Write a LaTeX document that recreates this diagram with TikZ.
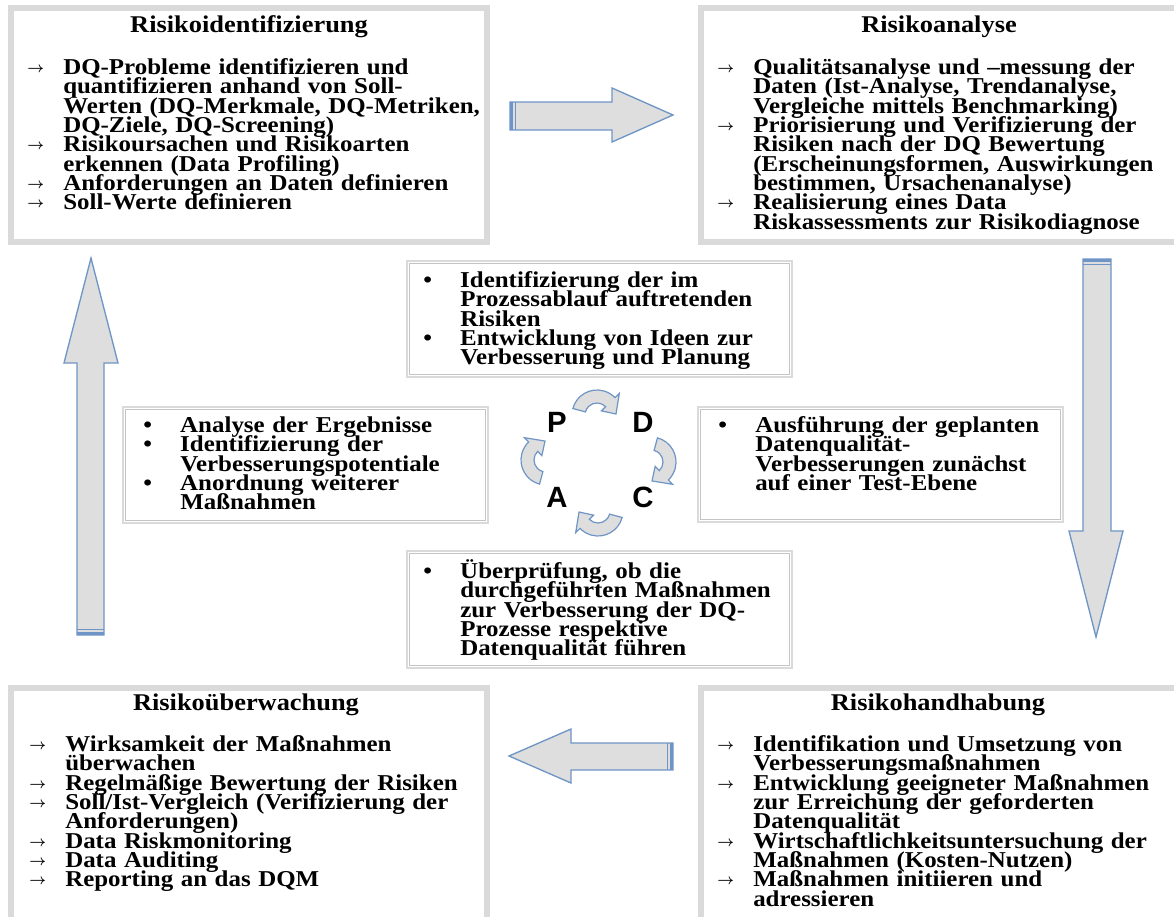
\documentclass[tikz,border=0pt]{standalone}
\usepackage{fontspec}
\setmainfont{Liberation Serif}[FakeStretch=1.1]
\newfontfamily\pdcafont{Liberation Sans}
\usetikzlibrary{positioning}

\definecolor{arrowblue}{HTML}{6E95C6}
\definecolor{arrowfill}{HTML}{DEDEDE}
\definecolor{framegray}{HTML}{DADADA}
\definecolor{linegray}{HTML}{C4C4C4}

\newcommand{\riskfont}{\fontsize{17}{14.5}\selectfont\bfseries\lineskiplimit=-50pt\lineskip=0pt}
\newcommand{\arrowitem}{\par\hangindent=27pt\hangafter=1\noindent\rule{0pt}{12pt}\makebox[27pt][l]{\raisebox{1.5pt}{\fontsize{11}{11}\selectfont$\boldsymbol{\rightarrow}$}}}
\newcommand{\dotitem}{\par\hangindent=27.75pt\hangafter=1\noindent\rule{0pt}{12pt}\makebox[27.75pt][l]{\textbullet}}
\usepackage{amsmath}

\tikzset{
    bigframe/.style={draw=framegray, line width=4.5pt},
    midframe/.style={draw=framegray, line width=2.2pt},
    midline/.style={draw=linegray, line width=0.6pt},
    boxtitle/.style={font=\fontsize{18}{18}\selectfont\bfseries, anchor=base, inner sep=0pt},
    itemtext/.style={font=\riskfont, align=left, text width=360pt, anchor=north west, inner sep=0pt},
    blockarrow/.style={fill=arrowfill, draw=arrowblue, line width=1pt, line join=miter},
    tailline/.style={draw=arrowblue, line width=#1},
    cyclearrow/.style={fill=arrowfill, draw=arrowblue, line width=0.9pt},
    pdca/.style={font=\pdcafont\fontsize{22}{22}\selectfont\bfseries, inner sep=0pt},
    turn/.pic={
        \path[cyclearrow] (195:25) arc[start angle=195, end angle=316, radius=25]
            -- (316:31) -- (357:19) -- (316:6) -- (316:12)
            arc[start angle=316, end angle=195, radius=12] -- cycle;
    }
}

\begin{document}
\begin{tikzpicture}[x=0.75pt, y=-0.75pt]
    \useasboundingbox (0,0) rectangle (1174,917);

    % four phase boxes
    \draw[bigframe] (11,8) rectangle (487,242);
    \draw[bigframe] (701,8) rectangle (1180,242);
    \draw[bigframe] (11,688) rectangle (487,922);
    \draw[bigframe] (701,688) rectangle (1180,922);

    \node[boxtitle] (identTitle) at (249,33) {Risikoidentifizierung};
    \node[boxtitle] (analyseTitle) at (939,33) {Risikoanalyse};
    \node[boxtitle] (watchTitle) at (246,710) {Risikoüberwachung};
    \node[boxtitle] (handleTitle) at (938,710) {Risikohandhabung};

    \node[itemtext] (identBody) at (27,55) {%
        \arrowitem DQ-Probleme identifizieren und\newline quantifizieren anhand von Soll-\newline Werten (DQ-Merkmale, DQ-Metriken,\newline DQ-Ziele, DQ-Screening)
        \arrowitem Risikoursachen und Risikoarten\newline erkennen (Data Profiling)
        \arrowitem Anforderungen an Daten definieren
        \arrowitem Soll-Werte definieren\par};

    \node[itemtext] (analyseBody) at (717,55) {%
        \arrowitem Qualitätsanalyse und –messung der\newline Daten (Ist-Analyse, Trendanalyse,\newline Vergleiche mittels Benchmarking)
        \arrowitem Priorisierung und Verifizierung der\newline Risiken nach der DQ Bewertung\newline (Erscheinungsformen, Auswirkungen\newline bestimmen, Ursachenanalyse)
        \arrowitem Realisierung eines Data\newline Riskassessments zur Risikodiagnose\par};

    \node[itemtext] (watchBody) at (29,732) {%
        \arrowitem Wirksamkeit der Maßnahmen\newline überwachen
        \arrowitem Regelmäßige Bewertung der Risiken
        \arrowitem Soll/Ist-Vergleich (Verifizierung der\newline Anforderungen)
        \arrowitem Data Riskmonitoring
        \arrowitem Data Auditing
        \arrowitem Reporting an das DQM\par};

    \node[itemtext] (handleBody) at (717,732) {%
        \arrowitem Identifikation und Umsetzung von\newline Verbesserungsmaßnahmen
        \arrowitem Entwicklung geeigneter Maßnahmen\newline zur Erreichung der geforderten\newline Datenqualität
        \arrowitem Wirtschaftlichkeitsuntersuchung der\newline Maßnahmen (Kosten-Nutzen)
        \arrowitem Maßnahmen initiieren und\newline adressieren\par};

    % inner PDCA boxes
    \draw[midframe] (407,261) rectangle (792,377);
    \draw[midline] (409.5,263.5) rectangle (789.5,374.5);
    \draw[midframe] (123,407) rectangle (488,523);
    \draw[midline] (125.5,409.5) rectangle (485.5,520.5);
    \draw[midframe] (698,407) rectangle (1063,522);
    \draw[midline] (700.5,409.5) rectangle (1060.5,519.5);
    \draw[midframe] (407,551) rectangle (792,668);
    \draw[midline] (409.5,553.5) rectangle (789.5,665.5);

    \node[itemtext] (planBody) at (423,268) {%
        \dotitem Identifizierung der im\newline Prozessablauf auftretenden\newline Risiken
        \dotitem Entwicklung von Ideen zur\newline Verbesserung und Planung\par};

    \node[itemtext] (actBody) at (143,413) {%
        \dotitem Analyse der Ergebnisse
        \dotitem Identifizierung der\newline Verbesserungspotentiale
        \dotitem Anordnung weiterer\newline Maßnahmen\par};

    \node[itemtext] (doBody) at (718,413) {%
        \dotitem Ausführung der geplanten\newline Datenqualität-\newline Verbesserungen zunächst\newline auf einer Test-Ebene\par};

    \node[itemtext] (checkBody) at (423,559) {%
        \dotitem Überprüfung, ob die\newline durchgeführten Maßnahmen\newline zur Verbesserung der DQ-\newline Prozesse respektive\newline Datenqualität führen\par};

    % big block arrows
    \draw[blockarrow] (510,102) -- (612,102) -- (612,88) -- (673,115) -- (612,142) -- (612,130) -- (510,130) -- cycle;
    \draw[tailline=2pt] (511.5,102) -- (511.5,130);
    \draw[tailline=0.8pt] (515.5,102) -- (515.5,130);

    \draw[blockarrow] (1083,259) -- (1111,259) -- (1111,531) -- (1123,531) -- (1096,637) -- (1069,531) -- (1083,531) -- cycle;
    \draw[tailline=2pt] (1083,260.5) -- (1111,260.5);
    \draw[tailline=0.8pt] (1083,264.5) -- (1111,264.5);

    \draw[blockarrow] (673,743) -- (571,743) -- (571,729) -- (509,756) -- (571,783) -- (571,770) -- (673,770) -- cycle;
    \draw[tailline=2pt] (671.5,743) -- (671.5,770);
    \draw[tailline=0.8pt] (667.5,743) -- (667.5,770);

    \draw[blockarrow] (77,635) -- (77,363) -- (64,363) -- (91,258) -- (118,363) -- (104,363) -- (104,635) -- cycle;
    \draw[tailline=2pt] (77,633.5) -- (104,633.5);
    \draw[tailline=0.8pt] (77,629.5) -- (104,629.5);

    % PDCA cycle
    \node[pdca] (P) at (557,422) {P};
    \node[pdca] (D) at (643,422) {D};
    \node[pdca] (C) at (643,497) {C};
    \node[pdca] (A) at (557,497) {A};

    \pic at (597,415) {turn};
    \pic[rotate=-90] at (651,462) {turn};
    \pic[rotate=180] at (598,511) {turn};
    \pic[rotate=90] at (546,460) {turn};
\end{tikzpicture}
\end{document}
